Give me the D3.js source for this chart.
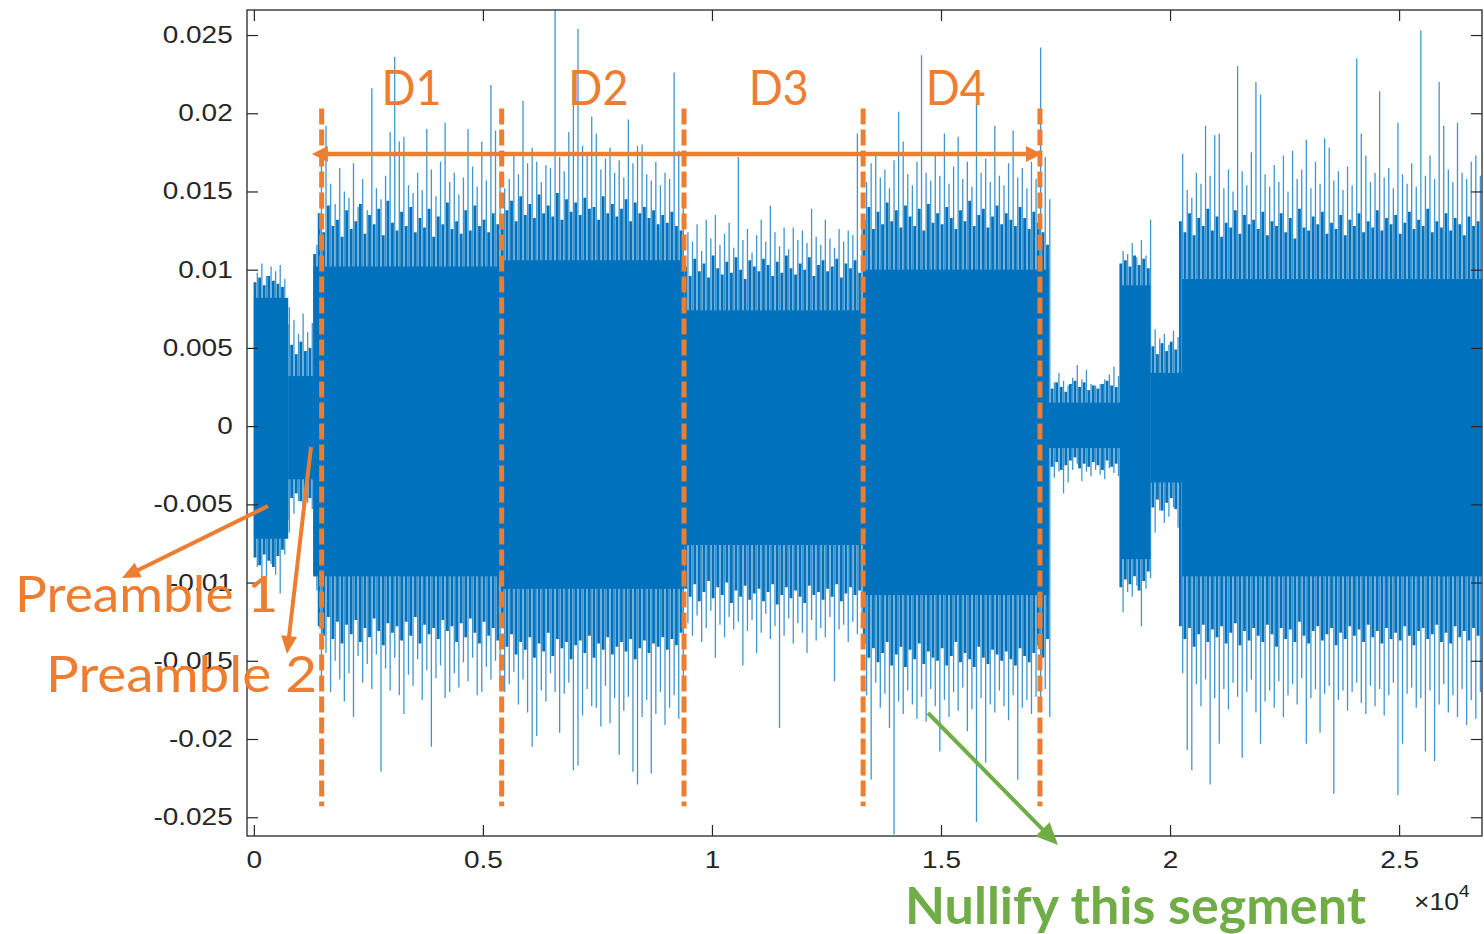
<!DOCTYPE html>
<html>
<head>
<meta charset="utf-8">
<script src="https://cdn.jsdelivr.net/npm/d3@7"></script>
<style>
  html, body { margin: 0; padding: 0; background: #ffffff; }
  svg { display: block; }
</style>
</head>
<body>
<svg id="chart" width="1484" height="934"></svg>
<script>
// ---- Received signal, per 100-sample bin (values in units of 1e-3) ----
const binSize = 100;
// largest excursion in each bin
const peakHi = [
  9.8,10.4,9.6,10.2,9.9,10.3,9.4,7.6,6.8,5.9,
  7.2,6.0,6.6,11.6,17.2,19.2,15.5,14.2,16.5,15.0,
  14.6,16.8,14.0,15.8,13.8,21.6,15.2,14.5,16.0,18.8,
  23.6,18.2,18.5,15.4,14.9,16.2,15.1,19.0,16.4,14.7,
  16.9,19.4,15.6,16.2,14.8,15.9,19.0,16.6,15.3,18.2,
  15.7,21.8,18.9,16.0,15.2,15.8,17.3,16.1,20.8,16.8,
  17.8,16.9,15.6,16.7,16.5,26.6,17.2,16.3,18.8,22.3,
  25.4,17.9,17.5,19.8,18.7,16.4,17.1,17.8,16.2,17.0,
  15.9,19.6,16.8,17.9,18.0,16.1,15.7,16.9,15.4,16.2,
  15.8,22.6,17.6,14.9,12.4,11.8,12.9,11.2,13.2,12.0,
  13.5,11.6,12.3,13.0,11.4,17.2,11.9,12.6,11.1,12.2,
  13.2,11.8,14.1,12.4,11.5,12.7,11.3,12.7,11.9,12.5,
  11.7,13.9,12.1,11.6,13.2,12.0,11.4,12.6,11.8,12.5,
  12.2,18.7,12.8,15.6,16.8,17.3,15.9,16.4,15.2,17.0,
  20.1,18.2,16.1,15.4,16.9,23.7,16.2,15.7,17.4,16.0,
  18.7,15.5,16.6,18.5,15.8,16.9,15.3,20.6,16.2,17.1,
  15.6,19.2,16.0,15.4,16.8,18.9,15.9,16.5,15.2,16.9,
  15.8,24.2,17.2,14.5,2.8,3.4,2.9,2.6,3.1,3.9,
  3.0,3.6,2.7,2.6,2.7,3.0,3.3,3.8,3.2,11.2,
  11.0,11.7,10.8,11.9,10.9,13.2,6.2,5.6,5.9,5.2,
  6.1,5.7,17.4,15.1,14.6,16.2,15.5,19.2,16.0,18.6,
  18.7,15.2,16.4,15.0,23.0,16.3,15.4,17.5,22.0,21.2,
  16.1,15.3,16.7,15.6,17.3,15.0,17.6,15.8,16.4,18.3,
  15.2,16.9,15.5,18.4,17.8,15.7,16.3,15.1,16.6,15.4,
  23.5,18.7,17.3,15.6,16.2,21.4,15.9,16.5,15.2,19.4,
  16.1,15.5,16.8,15.3,25.3,16.0,17.3,15.8,22.0,19.2,
  16.4,15.6,19.4,16.2,15.8,16.9,17.3,16.0
];
const peakLo = [
  -9.0,-11.8,-9.6,-8.8,-9.5,-10.7,-8.2,-6.8,-5.6,-4.8,
  -5.8,-4.9,-5.3,-10.5,-16.0,-14.5,-17.0,-15.0,-16.2,-17.6,
  -15.8,-18.6,-14.7,-16.4,-15.2,-16.8,-14.6,-22.1,-15.5,-16.9,
  -14.8,-17.2,-18.4,-15.9,-16.6,-14.9,-17.5,-15.6,-20.5,-16.1,
  -15.3,-17.4,-17.0,-15.8,-16.7,-15.1,-16.3,-14.8,-17.2,-17.0,
  -15.4,-16.2,-15.0,-16.8,-17.0,-16.5,-15.7,-17.8,-16.2,-18.3,
  -20.5,-19.8,-16.9,-17.6,-15.8,-17.0,-19.6,-17.1,-16.4,-22.0,
  -21.7,-18.5,-16.8,-17.9,-18.0,-19.2,-16.6,-19.0,-17.4,-21.0,
  -18.2,-17.3,-22.1,-22.9,-18.6,-17.5,-22.2,-18.4,-17.0,-19.1,
  -18.0,-17.2,-18.7,-16.3,-12.6,-13.4,-12.1,-13.8,-12.9,-11.8,
  -14.8,-12.7,-13.5,-12.2,-13.0,-12.5,-15.3,-13.1,-12.4,-14.5,
  -13.2,-12.0,-13.6,-12.8,-19.3,-13.4,-12.3,-13.9,-12.6,-13.2,
  -14.5,-12.4,-13.7,-12.9,-13.5,-12.2,-16.3,-13.0,-12.7,-13.8,
  -12.5,-13.3,-12.9,-17.2,-22.6,-16.4,-18.0,-17.1,-19.3,-26.1,
  -17.6,-18.4,-16.9,-17.8,-18.7,-17.3,-18.9,-16.8,-17.9,-20.8,
  -17.5,-18.6,-17.0,-18.2,-16.7,-19.5,-18.1,-25.3,-17.4,-21.5,
  -17.8,-18.3,-16.9,-17.9,-18.8,-17.2,-22.6,-18.0,-17.5,-18.4,
  -17.3,-17.9,-16.8,-18.6,-3.3,-2.9,-4.3,-3.6,-2.8,-2.4,
  -3.5,-2.9,-3.2,-2.8,-3.1,-3.4,-2.7,-3.0,-3.2,-11.9,
  -10.6,-10.9,-10.2,-12.8,-10.4,-9.7,-6.8,-5.4,-6.2,-5.8,
  -5.2,-6.5,-15.8,-20.7,-22.0,-16.5,-17.9,-16.2,-22.9,-17.4,
  -20.3,-16.8,-18.1,-16.4,-17.3,-21.2,-17.0,-16.2,-18.3,-20.3,
  -17.6,-16.9,-18.0,-16.3,-18.6,-17.2,-16.5,-17.8,-16.1,-20.3,
  -17.4,-16.8,-19.6,-17.1,-16.6,-23.5,-17.5,-16.9,-18.2,-17.0,
  -16.4,-17.7,-18.4,-16.6,-17.9,-16.8,-18.5,-17.2,-16.4,-23.6,
  -20.3,-17.1,-16.7,-18.0,-17.4,-20.8,-16.9,-21.4,-17.8,-16.5,
  -18.3,-17.2,-18.6,-16.8,-19.1,-17.5,-18.7,-17.0
];
// second-largest excursion in each bin
const fringeHi = [
  9.2,9.5,9.0,9.6,9.3,9.1,8.9,6.5,5.2,4.6,
  5.4,4.8,5.0,11.0,13.6,12.4,14.1,12.8,13.2,12.1,
  13.8,12.6,13.1,14.2,12.3,13.5,12.9,13.9,12.2,14.4,
  13.0,12.5,13.7,12.8,14.0,12.4,13.3,12.7,13.9,12.1,
  13.4,12.9,14.3,12.6,13.1,12.3,13.8,12.5,14.1,12.8,
  13.2,12.4,13.6,12.9,12.6,13.8,14.4,13.1,14.7,13.5,
  14.2,13.3,14.8,13.6,14.1,13.4,14.9,13.2,14.5,13.7,
  14.3,13.5,14.6,13.9,14.0,13.2,14.7,13.6,14.2,13.4,
  13.9,14.5,13.1,14.3,13.6,14.0,13.3,13.8,12.9,13.5,
  13.0,13.7,12.8,12.5,10.2,9.6,10.7,9.9,10.4,9.5,
  10.9,10.1,9.7,10.5,9.8,10.8,10.0,9.4,10.6,10.2,
  9.9,10.7,10.3,9.6,10.5,9.8,10.9,10.1,9.7,10.4,
  10.0,10.8,9.6,10.3,10.6,9.9,10.2,10.7,9.5,10.4,
  10.1,10.6,9.8,13.2,14.0,12.6,13.7,12.9,14.3,13.1,
  13.8,12.7,14.1,13.4,12.8,13.9,12.5,14.2,13.0,13.6,
  12.9,14.0,13.3,12.6,13.8,13.1,14.4,12.8,13.5,13.9,
  12.7,13.4,14.1,12.9,13.6,13.2,12.8,14.0,13.3,12.6,
  13.7,13.0,12.4,11.6,2.4,2.8,2.5,2.2,2.7,2.9,
  2.5,2.8,2.3,2.6,2.4,2.7,2.9,2.6,2.5,10.4,
  10.6,10.2,10.9,10.3,10.7,10.1,5.1,4.6,5.3,4.8,
  5.4,4.9,13.1,12.4,13.6,12.2,13.3,12.8,13.9,12.5,
  13.4,12.1,13.0,12.7,13.8,12.3,13.5,12.9,13.2,12.6,
  13.7,12.2,13.1,12.8,13.6,12.4,13.3,12.0,13.9,12.7,
  12.5,13.4,12.9,13.7,12.3,13.0,12.6,13.5,12.2,13.2,
  12.8,13.6,12.4,13.1,12.7,13.8,12.5,13.3,12.9,13.5,
  12.3,13.0,13.7,12.6,13.2,12.8,13.9,12.4,13.1,12.7,
  13.6,12.5,13.3,12.9,12.2,13.4,12.8,13.1
];
const fringeLo = [
  -8.4,-8.9,-8.2,-8.6,-9.0,-8.3,-7.9,-6.0,-4.6,-4.3,
  -4.8,-4.4,-4.6,-9.6,-12.8,-13.4,-12.2,-13.6,-12.5,-13.9,
  -12.7,-13.3,-12.4,-13.8,-12.9,-13.5,-12.3,-13.1,-14.0,-12.6,
  -13.2,-12.8,-13.7,-12.5,-13.4,-12.2,-13.9,-12.7,-13.3,-12.9,
  -13.6,-12.4,-13.1,-12.8,-13.8,-12.6,-13.5,-12.3,-13.2,-13.9,
  -12.5,-13.4,-12.9,-13.7,-12.6,-14.1,-13.3,-14.6,-13.8,-14.3,
  -13.5,-14.8,-13.9,-14.4,-13.2,-14.7,-13.6,-14.2,-13.8,-14.9,
  -14.0,-13.7,-14.5,-13.4,-14.8,-13.9,-14.3,-13.5,-14.6,-14.1,
  -13.8,-14.4,-13.6,-14.9,-14.2,-13.7,-14.5,-13.9,-14.1,-13.5,
  -14.3,-13.6,-14.0,-13.2,-10.4,-10.9,-10.1,-11.2,-10.6,-9.9,
  -11.0,-10.3,-10.8,-10.0,-11.3,-10.5,-10.9,-10.2,-11.1,-10.7,
  -10.4,-11.2,-10.6,-10.1,-11.4,-10.8,-10.3,-11.0,-10.5,-10.9,
  -11.3,-10.2,-10.8,-10.6,-11.1,-10.4,-10.9,-10.1,-11.2,-10.7,
  -10.3,-10.8,-10.5,-13.9,-14.8,-14.2,-15.1,-14.5,-13.8,-15.3,
  -14.6,-14.1,-15.4,-14.3,-14.9,-13.9,-15.2,-14.4,-14.8,-15.0,
  -14.2,-15.3,-14.7,-13.8,-15.1,-14.5,-14.9,-15.4,-14.1,-14.8,
  -15.2,-14.3,-14.6,-15.0,-14.4,-14.9,-15.3,-14.2,-14.7,-15.1,
  -14.5,-14.0,-14.8,-13.6,-2.6,-2.3,-2.8,-2.5,-2.2,-2.0,
  -2.7,-2.4,-2.6,-2.3,-2.5,-2.8,-2.2,-2.6,-2.4,-10.3,
  -9.8,-10.1,-9.6,-10.5,-9.9,-9.3,-5.2,-4.7,-5.4,-4.9,
  -4.6,-5.3,-12.8,-13.6,-12.9,-14.1,-13.3,-12.7,-13.8,-13.0,
  -13.5,-12.8,-13.9,-13.2,-12.6,-14.0,-13.1,-13.7,-12.9,-13.4,
  -13.8,-12.7,-13.3,-14.1,-12.9,-13.6,-13.0,-13.8,-12.5,-13.4,
  -13.9,-13.1,-12.8,-13.7,-13.3,-12.9,-14.0,-13.2,-13.6,-12.8,
  -13.4,-13.0,-13.8,-12.7,-13.5,-13.1,-13.9,-12.9,-13.6,-13.2,
  -13.7,-12.8,-13.4,-14.0,-13.1,-12.9,-13.6,-13.3,-12.7,-13.8,
  -13.2,-13.9,-12.8,-13.5,-13.1,-13.7,-12.9,-13.4
];

// ---- Dense core of each signal segment (sample edges, upper / lower level, 1e-3) ----
const segEdges = [0, 750, 1300, 5410, 9390, 13320, 17350, 18950, 19570, 20260, 26800];
const coreHi = [8.2, 3.2, 10.2, 10.6, 7.4, 10.0, 1.5, 9.0, 3.4, 9.4];
const coreLo = [-7.2, -3.4, -9.6, -10.4, -7.6, -10.8, -1.4, -8.5, -3.6, -9.6];

// ---- Axis ticks ----
const yTicks = [-25, -20, -15, -10, -5, 0, 5, 10, 15, 20, 25];   // 1e-3
const xTicks = [0, 5000, 10000, 15000, 20000, 25000];            // samples

// ---- Data-block annotations (sample index) ----
const dividers = [1480, 5410, 9390, 13300, 17160];
const blockNames = ["D1", "D2", "D3", "D4"];
const blockNameAt = [3440, 7520, 11460, 15320];
const spanFrom = 1266, spanTo = 17205;

// ---- Setup ----
const BLUE = "#0072BD", ORANGE = "#ED7D31", GREEN = "#70AD47", AXIS = "#262626";
const plot = { left: 247, right: 1482, top: 10, bottom: 836 };
const svg = d3.select("#chart");

const x = d3.scaleLinear().domain([-150, 26810]).range([plot.left, plot.right]);
const y = d3.scaleLinear().domain([-26.2, 26.6]).range([plot.bottom, plot.top]);

const defs = svg.append("defs");
defs.append("clipPath").attr("id", "plotClip")
  .append("rect")
  .attr("x", plot.left).attr("y", plot.top)
  .attr("width", plot.right - plot.left).attr("height", plot.bottom - plot.top);

// ---- Waveform ----
const wave = svg.append("g").attr("clip-path", "url(#plotClip)");

const segs = coreHi.map((h, i) => ({ s0: segEdges[i], s1: segEdges[i + 1], hi: h, lo: coreLo[i] }));
wave.selectAll("rect.core").data(segs).join("rect")
  .attr("class", "core")
  .attr("x", d => x(d.s0))
  .attr("width", d => x(d.s1) - x(d.s0))
  .attr("y", d => y(d.hi))
  .attr("height", d => y(d.lo) - y(d.hi))
  .attr("fill", BLUE);

// second-largest excursion: a heavier stroke early in each bin
const fringe = fringeHi.map((h, i) => ({ s: i * binSize + 25, hi: h, lo: fringeLo[i] }));
wave.selectAll("line.fringe").data(fringe).join("line")
  .attr("class", "fringe")
  .attr("x1", d => x(d.s)).attr("x2", d => x(d.s))
  .attr("y1", d => y(d.lo)).attr("y2", d => y(d.hi))
  .attr("stroke", BLUE)
  .attr("stroke-width", 2.8);

// largest excursion: a thin stroke later in each bin
const peaks = peakHi.map((h, i) => ({ s: i * binSize + 75, hi: h, lo: peakLo[i] }));
wave.selectAll("line.peak").data(peaks).join("line")
  .attr("class", "peak")
  .attr("x1", d => x(d.s)).attr("x2", d => x(d.s))
  .attr("y1", d => y(d.lo)).attr("y2", d => y(d.hi))
  .attr("stroke", BLUE)
  .attr("stroke-opacity", 0.75)
  .attr("stroke-width", 1.3);

// ---- Axes (box with inward ticks on all four sides) ----
const fmtY = v => String(+(v / 1000).toFixed(3));
const fmtX = v => String(v / 10000);
const tickLen = -11;

function styleAxis(g) {
  g.select(".domain").remove();
  g.selectAll(".tick line").attr("stroke", AXIS).attr("stroke-width", 1.2);
  g.selectAll(".tick text")
    .attr("fill", AXIS)
    .style("font-family", "'Liberation Sans', Arial, sans-serif")
    .style("font-size", "23.5px")
    .attr("transform", "scale(1.19,1)");
}

svg.append("g").attr("transform", `translate(${plot.left},0)`)
  .call(d3.axisLeft(y).tickValues(yTicks).tickSizeInner(tickLen).tickSizeOuter(0)
    .tickPadding(12).tickFormat(fmtY))
  .call(styleAxis);
svg.append("g").attr("transform", `translate(${plot.right},0)`)
  .call(d3.axisRight(y).tickValues(yTicks).tickSizeInner(tickLen).tickSizeOuter(0).tickFormat(""))
  .call(styleAxis);
svg.append("g").attr("transform", `translate(0,${plot.bottom})`)
  .call(d3.axisBottom(x).tickValues(xTicks).tickSizeInner(tickLen).tickSizeOuter(0)
    .tickPadding(15).tickFormat(fmtX))
  .call(styleAxis);
svg.append("g").attr("transform", `translate(0,${plot.top})`)
  .call(d3.axisTop(x).tickValues(xTicks).tickSizeInner(tickLen).tickSizeOuter(0).tickFormat(""))
  .call(styleAxis);

svg.append("rect")
  .attr("x", plot.left).attr("y", plot.top)
  .attr("width", plot.right - plot.left).attr("height", plot.bottom - plot.top)
  .attr("fill", "none").attr("stroke", AXIS).attr("stroke-width", 1.3);

// exponent of the x axis
const expo = svg.append("text")
  .attr("transform", "translate(1414,910) scale(1.15,1)")
  .attr("fill", AXIS)
  .style("font-family", "'Liberation Sans', Arial, sans-serif")
  .style("font-size", "23px");
expo.append("tspan").text("\u00d710");
expo.append("tspan").attr("dy", -13).style("font-size", "17px").text("4");

// ---- Annotations ----
const ann = svg.append("g");

function arrow(g, x1, y1, x2, y2, color, width, headLen, headWid) {
  const dx = x2 - x1, dy = y2 - y1, L = Math.hypot(dx, dy);
  const ux = dx / L, uy = dy / L, nx = -uy, ny = ux;
  const bx = x2 - ux * headLen, by = y2 - uy * headLen;
  g.append("line").attr("x1", x1).attr("y1", y1).attr("x2", bx + ux).attr("y2", by + uy)
    .attr("stroke", color).attr("stroke-width", width);
  g.append("path")
    .attr("d", `M${x2},${y2}L${bx + nx * headWid / 2},${by + ny * headWid / 2}L${bx - nx * headWid / 2},${by - ny * headWid / 2}Z`)
    .attr("fill", color);
}

// block dividers
ann.selectAll("line.div").data(dividers).join("line")
  .attr("class", "div")
  .attr("x1", d => x(d)).attr("x2", d => x(d))
  .attr("y1", y(20.3)).attr("y2", y(-24.3))
  .attr("stroke", ORANGE).attr("stroke-width", 5)
  .attr("stroke-dasharray", "16 5");

// span of the data blocks, arrowheads at both ends
const spanY = y(17.4);
const mid = (x(spanFrom) + x(spanTo)) / 2;
arrow(ann, mid, spanY, x(spanFrom), spanY, ORANGE, 4.5, 16, 16);
arrow(ann, mid, spanY, x(spanTo), spanY, ORANGE, 4.5, 16, 16);

// block names
const labelFont = "Lato, 'Open Sans', sans-serif";
ann.selectAll("text.blk").data(blockNames).join("text")
  .attr("class", "blk")
  .attr("x", (d, i) => x(blockNameAt[i]))
  .attr("y", y(20.5))
  .attr("text-anchor", "middle")
  .attr("textLength", 60)
  .attr("lengthAdjust", "spacingAndGlyphs")
  .attr("fill", ORANGE)
  .style("font-family", labelFont)
  .style("font-weight", 400)
  .style("font-size", "48px")
  .text(d => d);

// preambles
arrow(ann, 268, 506, 122, 578, ORANGE, 4, 18, 16);
arrow(ann, 311, 447, 287, 654, ORANGE, 4, 18, 16);

ann.append("text")
  .attr("x", 15).attr("y", 612)
  .attr("textLength", 263).attr("lengthAdjust", "spacingAndGlyphs")
  .attr("fill", ORANGE)
  .style("font-family", labelFont).style("font-weight", 400).style("font-size", "50px")
  .text("Preamble 1");
ann.append("text")
  .attr("x", 46).attr("y", 692)
  .attr("textLength", 271).attr("lengthAdjust", "spacingAndGlyphs")
  .attr("fill", ORANGE)
  .style("font-family", labelFont).style("font-weight", 400).style("font-size", "50px")
  .text("Preamble 2");

// segment to be nulled
arrow(ann, 928, 713, 1058, 845, GREEN, 4, 22, 20);
ann.append("text")
  .attr("x", 905).attr("y", 924)
  .attr("textLength", 461).attr("lengthAdjust", "spacingAndGlyphs")
  .attr("fill", GREEN)
  .style("font-family", labelFont).style("font-weight", 700).style("font-size", "52px")
  .text("Nullify this segment");
</script>
</body>
</html>
